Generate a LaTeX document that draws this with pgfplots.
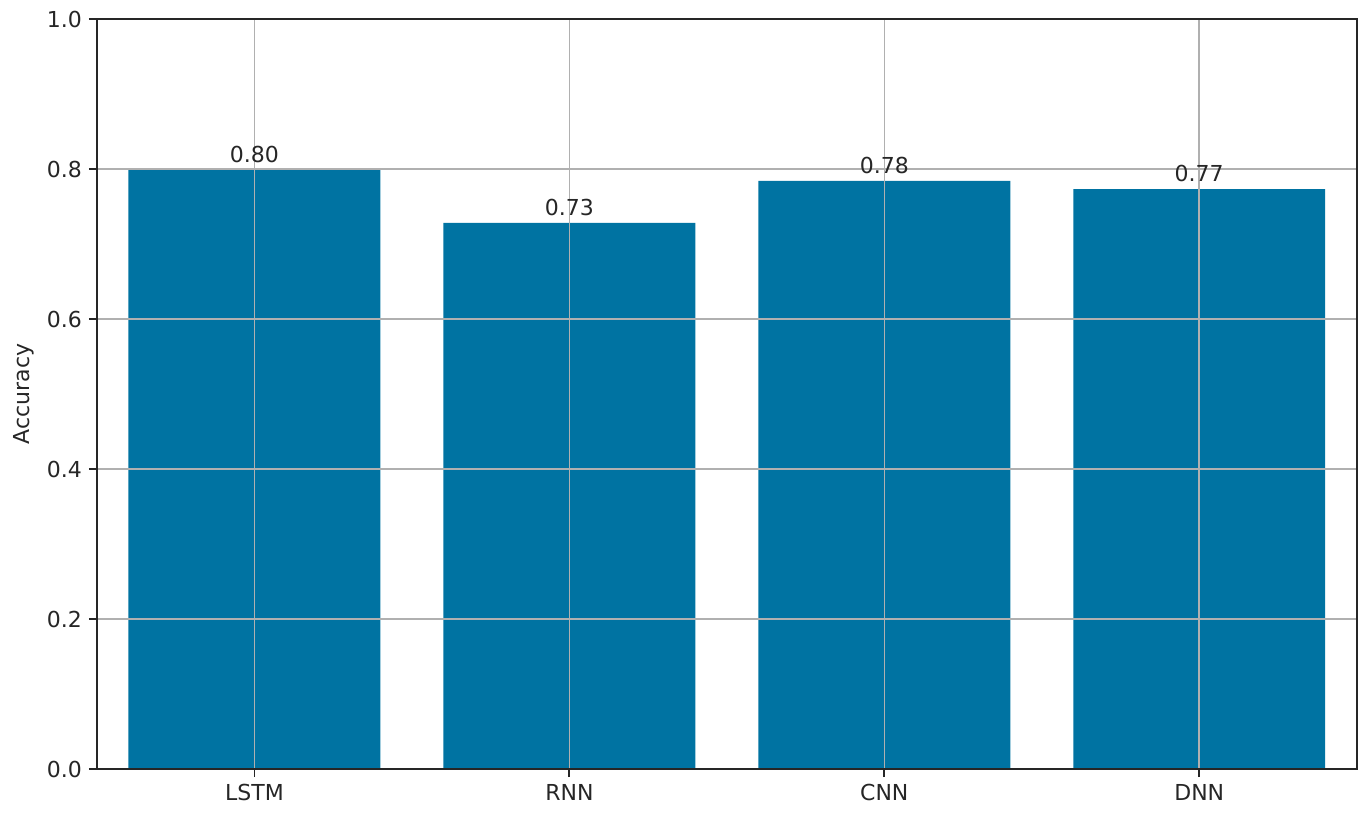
\documentclass[border=0pt]{standalone}
\usepackage{fontspec}
\setmainfont{DejaVu Sans}
\usepackage{pgfplots}
\pgfplotsset{compat=1.18}
\definecolor{barblue}{RGB}{0,115,162}
\definecolor{gridgray}{RGB}{176,176,176}
\definecolor{txt}{RGB}{38,38,38}
\begin{document}
\begin{tikzpicture}
\begin{axis}[
  scale only axis,
  width=629.85pt, height=375pt,
  xmin=-0.5, xmax=3.5,
  ymin=0, ymax=1,
  xtick={0,1,2,3},
  xticklabels={LSTM,RNN,CNN,DNN},
  ytick={0,0.2,0.4,0.6,0.8,1.0},
  yticklabel style={/pgf/number format/fixed,/pgf/number format/precision=1,/pgf/number format/fixed zerofill},
  /pgf/number format/assume math mode=true,
  tick label style={font=\fontsize{11}{13}\selectfont, text=txt},
  label style={font=\fontsize{11}{13}\selectfont, text=txt},
  ylabel={Accuracy},
  ylabel style={at={([xshift=-36.5pt]axis description cs:0,0.5)}, anchor=center},
  tick align=outside,
  major tick length=4pt,
  tick style={line width=0.9pt, color=txt},
  axis line style={line width=0.9pt, color=txt},
  xtick pos=bottom, ytick pos=left,
  grid=major,
  major grid style={line width=0.8pt, color=gridgray},
  axis on top=true,
  ybar, bar width=0.8, bar shift=0pt,
  nodes near coords,
  nodes near coords style={font=\fontsize{11}{13}\selectfont, text=txt, anchor=south, inner sep=0pt, yshift=3.5pt,
    /pgf/number format/fixed,/pgf/number format/precision=2,/pgf/number format/fixed zerofill},
]
\addplot[fill=barblue, draw=none] coordinates {(0,0.799) (1,0.728) (2,0.784) (3,0.773)};
\end{axis}
\pgfresetboundingbox
\path ([shift={(-48.5pt,-23.25pt)}]current axis.south west) rectangle ([shift={(7.15pt,9.5pt)}]current axis.north east);
\end{tikzpicture}
\end{document}
